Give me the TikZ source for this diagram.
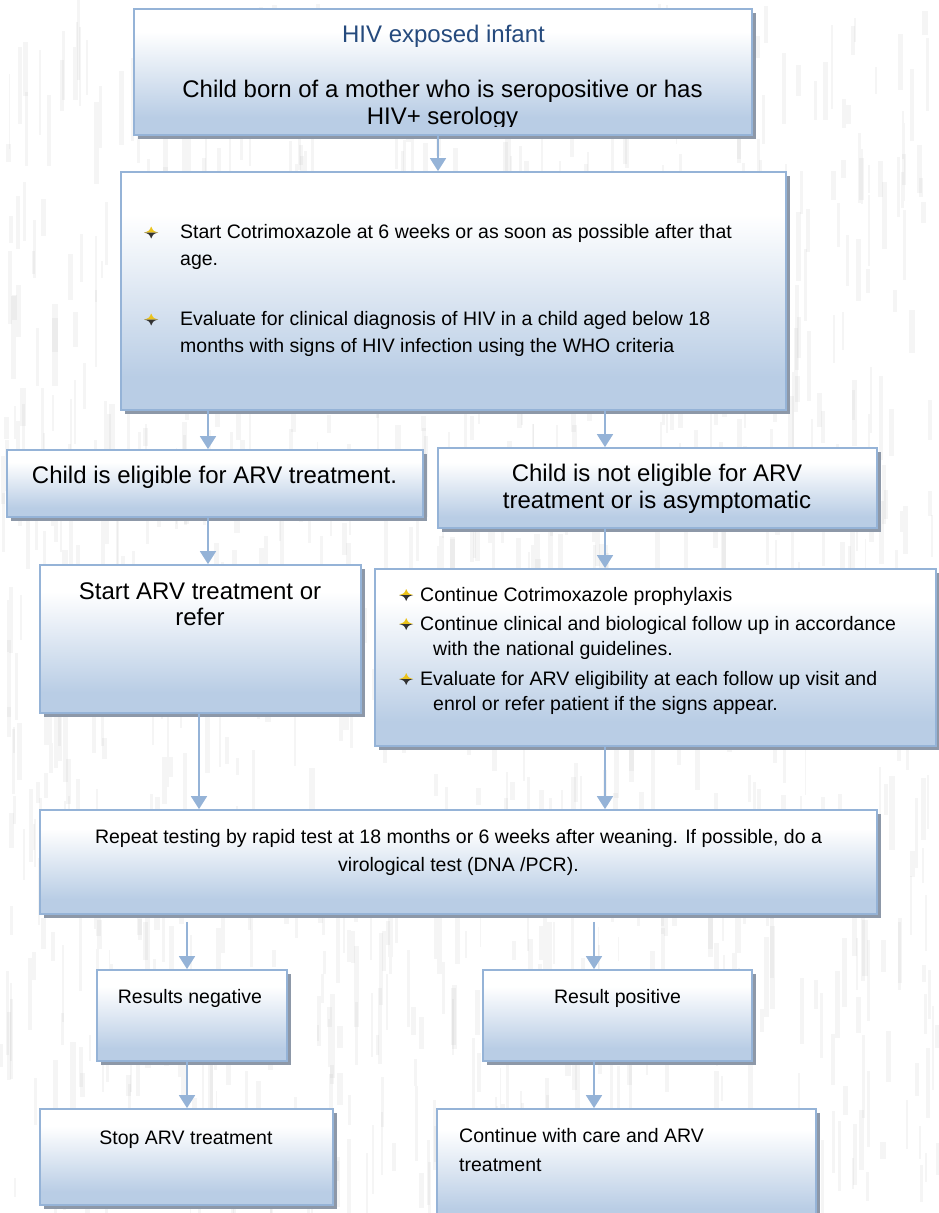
\documentclass[tikz,border=0pt]{standalone}
\usepackage{fontspec}
\setmainfont{Liberation Sans}
\usetikzlibrary{
    arrows.meta,
    positioning,
    calc,
    shadows
}

\definecolor{boxblue}{HTML}{B9CDE5}
\definecolor{boxline}{HTML}{95B3D7}
\definecolor{boxshade}{HTML}{8D98A8}
\definecolor{titleblue}{HTML}{254A7D}
\definecolor{bulletgold}{HTML}{EBC31C}
\definecolor{streakgray}{HTML}{A8A8A8}

% white at the top, light blue at the bottom
\pgfdeclareverticalshading{boxfade}{100bp}{%
    color(0bp)=(boxblue); color(32bp)=(boxblue);
    color(66bp)=(white); color(100bp)=(white)}

% --- Four-point star bullet ---
\newcommand{\starbul}{\tikz[baseline={(0,-6pt)}, x=1pt, y=1pt]{%
    \fill[bulletgold] (-7,0) .. controls (-2,1.5) .. (0,6) .. controls (2,1.5) .. (7,0) -- cycle;
    \fill[black!80] (-7,0) .. controls (-2,-1.5) .. (0,-6) .. controls (2,-1.5) .. (7,0) -- cycle;}}
\newcommand{\bul}[1]{\makebox[#1][l]{\starbul}}
\newcommand{\bigtext}{\fontsize{24}{27}\selectfont}
\newcommand{\smalltext}{\fontsize{19.5}{27}\selectfont}

\tikzset{
    % --- Shaded flowchart box ---
    flow box/.style = {
        rectangle, draw=boxline, line width=1.8pt,
        shade, shading=boxfade, inner sep=0pt,
        drop shadow={shadow xshift=4pt, shadow yshift=-4pt,
            fill=boxshade, opacity=1}
    },
    % --- Large centred text (placed by its last baseline) ---
    big label/.style = {
        font=\bigtext, align=center, inner sep=0pt, anchor=base
    },
    % --- Smaller text (bullets, results) ---
    small label/.style = {
        font=\smalltext, align=left, inner sep=0pt, anchor=base west
    },
    % --- Down arrow between boxes ---
    flow/.style = {
        draw=boxline, line width=1.8pt,
        -{Triangle[width=16pt, length=13pt]}, boxline
    },
    % --- Background grain ---
    streak/.style = {
        fill=streakgray, opacity=0.11
    }
}

\begin{document}
\begin{tikzpicture}[x=1pt, y=-1pt]

\useasboundingbox (0,0) rectangle (938,1213);
\fill[white] (0,0) rectangle (938,1213);

% ---------------------------------------------------------
% Background grain
% ---------------------------------------------------------
\pgfmathsetseed{42}
\foreach \k in {1,...,1100}{
    \pgfmathsetmacro{\sx}{rnd*936}
    \pgfmathsetmacro{\sy}{rnd*1180}
    \pgfmathsetmacro{\sl}{15+rnd*70}
    \pgfmathsetmacro{\sw}{1.5+rnd*4}
    \fill[streak] (\sx,\sy) rectangle ++(\sw,\sl);
}

% ---------------------------------------------------------
% Boxes
% ---------------------------------------------------------
\node[flow box, minimum width=618pt, minimum height=126pt] (hiv) at (443,72) {};
\node[flow box, minimum width=665pt, minimum height=238pt] (cotri) at (453.5,291) {};
\node[flow box, minimum width=416pt, minimum height=67pt] (elig) at (215,483.5) {};
\node[flow box, minimum width=439pt, minimum height=80pt] (notElig) at (657.5,488) {};
\node[flow box, minimum width=321pt, minimum height=148pt] (startArv) at (200.5,639) {};
\node[flow box, minimum width=561pt, minimum height=177pt] (follow) at (655.5,657.5) {};
\node[flow box, minimum width=837pt, minimum height=104pt] (retest) at (458.5,862) {};
\node[flow box, minimum width=190pt, minimum height=91pt] (neg) at (192,1015.5) {};
\node[flow box, minimum width=269pt, minimum height=91pt] (pos) at (617.5,1015.5) {};
\node[flow box, minimum width=293pt, minimum height=96pt] (stopArv) at (186.5,1157) {};
\node[flow box, minimum width=379pt, minimum height=116pt] (contArv) at (626.5,1167) {};

% ---------------------------------------------------------
% Texts
% ---------------------------------------------------------
\begin{scope}
    \clip (hiv.north west) rectangle ($(hiv.south east)+(0,-9)$);
    \node[big label, text=titleblue] (hivTitle) at (443.5,42) {HIV exposed infant};
    \node[big label] (hivText) at (442.5,124.5) {Child born of a mother who is seropositive or has\\HIV+ serology};
\end{scope}

\node[small label] (cotriText) at (144,352.5) {%
    \bul{36pt}Start Cotrimoxazole at 6 weeks or as soon as possible after that\\
    \hspace*{36pt}age.\\[33pt]
    \bul{36pt}Evaluate for clinical diagnosis of HIV in a child aged below 18\\
    \hspace*{36pt}months with signs of HIV infection using the WHO criteria};

\node[big label] (eligText) at (214.5,483) {Child is eligible for ARV treatment.};
\node[big label] (notEligText) at (657,508) {Child is not eligible for ARV\\treatment or is asymptomatic};
\node[big label, font=\fontsize{24}{26}\selectfont] (startArvText) at (200,625) {Start ARV treatment or\\refer};

\node[small label, font=\fontsize{19.5}{25}\selectfont] (followText) at (399,710) {%
    \bul{21pt}Continue Cotrimoxazole prophylaxis\\[4pt]
    \bul{21pt}Continue clinical and biological follow up in accordance\\
    \hspace*{34pt}with the national guidelines.\\[5pt]
    \bul{21pt}Evaluate for ARV eligibility at each follow up visit and\\
    \hspace*{34pt}enrol or refer patient if the signs appear.};

\node[small label, align=center, anchor=base, font=\fontsize{19.5}{28}\selectfont] (retestText) at (458.5,871)
    {Repeat testing by rapid test at 18 months or 6 weeks after weaning. If possible, do a\\virological test (DNA /PCR).};

\node[small label, anchor=base] (negText) at (190,1003) {Results negative};
\node[small label, anchor=base] (posText) at (617.5,1003) {Result positive};
\node[small label, anchor=base] (stopArvText) at (186,1144) {Stop ARV treatment};
\node[small label, font=\fontsize{19.5}{29}\selectfont] (contArvText) at (459,1171) {Continue with care and ARV\\treatment};

% ---------------------------------------------------------
% Arrow columns
% ---------------------------------------------------------
\coordinate (colM) at (438,0);
\coordinate (colA) at (208,0);
\coordinate (colB) at (605,0);
\coordinate (colC) at (199,0);
\coordinate (colE) at (187,0);
\coordinate (colF) at (594,0);

% ---------------------------------------------------------
% Arrows
% ---------------------------------------------------------
\draw[flow] (hiv.south -| colM) -- (cotri.north -| colM);
\draw[flow] (cotri.south -| colA) -- (elig.north -| colA);
\draw[flow] (cotri.south -| colB) -- (notElig.north -| colB);
\draw[flow] (elig.south -| colA) -- (startArv.north -| colA);
\draw[flow] (notElig.south -| colB) -- (follow.north -| colB);
\draw[flow] (startArv.south -| colC) -- (retest.north -| colC);
\draw[flow] (follow.south -| colB) -- (retest.north -| colB);
\draw[flow, shorten <=7pt] (retest.south -| colE) -- (neg.north -| colE);
\draw[flow, shorten <=7pt] (retest.south -| colF) -- (pos.north -| colF);
\draw[flow] (neg.south -| colE) -- (stopArv.north -| colE);
\draw[flow] (pos.south -| colF) -- (contArv.north -| colF);

\end{tikzpicture}
\end{document}
